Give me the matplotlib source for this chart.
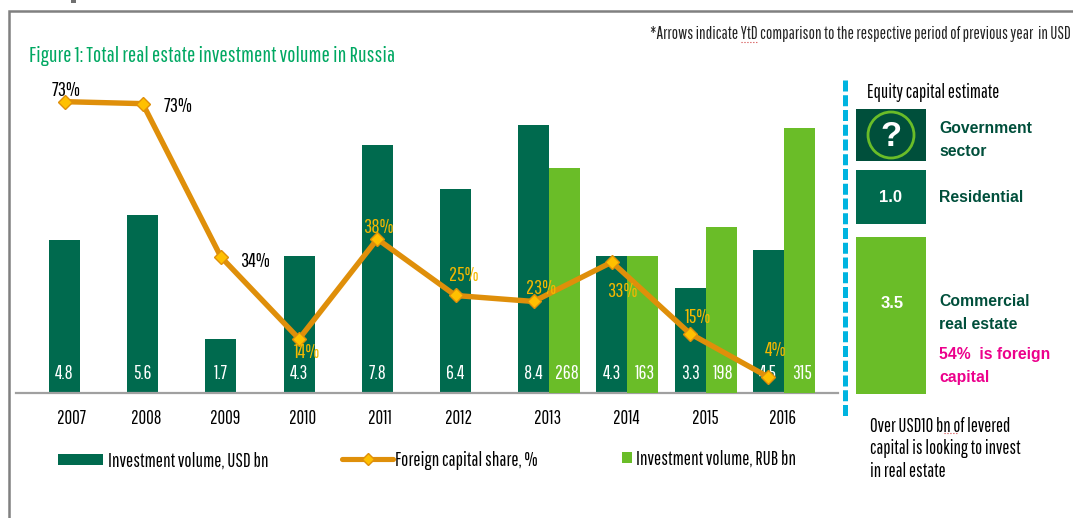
#Total real estate investment volume in Russia

import numpy as np

import matplotlib.pyplot as plt
from matplotlib.patches import Rectangle, Circle

################
##Data
################

years    = ['2007','2008','2009','2010','2011','2012','2013','2014','2015','2016']

usd_bn   = [4.8, 5.6, 1.7, 4.3, 7.8, 6.4, 8.4, 4.3, 3.3, 4.5]

rub_year = [6, 7, 8, 9]
rub_bn   = [268, 163, 198, 315]

share     = [73.2, 72.7, 34.2, 13.6, 38.7, 24.5, 23.0, 32.9, 14.9, 4.0]
share_lab = ['73%','73%','34%','14%','38%','25%','23%','33%','15%','4%']

equity_names  = ['Government\nsector', 'Residential', 'Commercial\nreal estate']
equity_values = ['?', '1.0', '3.5']

################
##Style
################

dark   = '#006A4E'
darker = '#004F3B'
light  = '#6ABD28'
orange = '#DF8F0A'
yellow = '#FFC000'
green  = '#00A862'
pink   = '#EC008C'
cyan   = '#00B4E0'
grey   = '#808080'

W, H = 1073, 518

narrow = ['Pathway Gothic One', 'Archivo Narrow', 'Liberation Sans', 'DejaVu Sans']
wide   = ['Liberation Sans', 'DejaVu Sans']

fig = plt.figure(figsize=(W/100, H/100), dpi=100)

#chart axes, placed in pixels
left, right, top, base = 16, 838, 70, 393
pos = [left/W, 1-base/H, (right-left)/W, (base-top)/H]

step = 78.2
x0   = 64.5
xlim = ((left-x0)/step, (right-x0)/step)

ax = fig.add_axes(pos)
ax.set_xlim(xlim)
ax.set_ylim(0, (base-top)/31.85)

#second axis RUB, third the share
ax2 = fig.add_axes(pos, sharex=ax)
ax2.set_ylim(0, (base-top)/0.84)
ax3 = fig.add_axes(pos, sharex=ax)
ax3.set_ylim(0, (base-top)/3.98)

for a in (ax, ax2, ax3):
    a.patch.set_visible(False)
    a.set_yticks([])
    a.tick_params(bottom=False, labelbottom=False)
    for s in ('top', 'left', 'right'):
        a.spines[s].set_visible(False)
ax2.spines['bottom'].set_visible(False)
ax3.spines['bottom'].set_visible(False)
ax.spines['bottom'].set_color('#A0A0A0')
ax.spines['bottom'].set_linewidth(1.6)

wid = 0.396
xpos = np.arange(len(years))

ax.bar(xpos, usd_bn, wid, color=dark)
ax2.bar(np.array(rub_year)+wid, rub_bn, wid, color=light)

ax3.plot(xpos, share, '-', color=orange, lw=3.9, marker='D', ms=7.5,
         mfc=yellow, mec=orange, mew=1.0, solid_joinstyle='miter')

#values inside the bars
for i, v in zip(xpos, usd_bn):
    ax.text(i, 0.6, '%.1f' % v, color='white', ha='center', va='center',
            family=narrow, fontsize=14)
for i, v in zip(rub_year, rub_bn):
    ax2.text(i+wid+0.03, 23, '%d' % v, color='white', ha='center', va='center',
             family=narrow, fontsize=14)

#share labels, offset in pixels from the point
offs = [(2, 11), (35, -3), (34, -5), (8, -14), (1, 11), (8, 20), (7, 13), (10, -29), (8, 16), (7, 27)]
cols = ['black', 'black', 'black'] + ['#F5B800']*7
for i, v, t, o, c in zip(xpos, share, share_lab, offs, cols):
    ax3.annotate(t, (i, v), xytext=(o[0]*0.72, o[1]*0.72), textcoords='offset points',
                 color=c, ha='center', va='center', family=narrow, fontsize=14.5)

###################################################################
#Everything else goes on a full figure axis in pixel coordinates
ov = fig.add_axes([0, 0, 1, 1], zorder=5)
ov.patch.set_visible(False)
ov.set_xlim(0, W)
ov.set_ylim(H, 0)
ov.axis('off')

#frame
ov.plot([9, 9, W], [H, 11, 11], color=grey, lw=1.8, solid_joinstyle='miter')
ov.add_patch(Rectangle((71, 0), 5, 2.5, color='#707070', lw=0))

ov.text(29, 56, 'Figure 1: Total real estate investment volume in Russia', color=green,
        family=narrow, fontsize=15.8, va='center')
ov.text(650, 34, '*Arrows indicate YtD comparison to the respective period of previous year  in USD',
        color='#222222', family=narrow, fontsize=12.1, va='center')
ov.plot([741, 758], [42, 42], color='#D04040', lw=0.8, ls=':')

#year labels
year_x = [71, 146, 225, 303, 380, 459, 548, 626, 705, 783]
for x, t in zip(year_x, years):
    ov.text(x, 419, t, color='black', ha='center', va='center', family=narrow, fontsize=13.5)

#legend
ov.add_patch(Rectangle((58, 454), 45, 11, color=dark, lw=0))
ov.text(108, 461, 'Investment volume, USD bn', family=narrow, fontsize=13.8, va='center')
ov.plot([342, 393], [459, 459], color=orange, lw=3.7, marker='', solid_capstyle='round')
ov.plot([368], [459], marker='D', ms=6.5, mfc=yellow, mec=orange, mew=1.0)
ov.text(395, 461, 'Foreign capital share, %', family=narrow, fontsize=13.8, va='center')
ov.add_patch(Rectangle((622, 452), 10, 11, color=light, lw=0))
ov.text(636, 459, 'Investment volume, RUB bn', family=narrow, fontsize=13.8, va='center')

#equity panel
ov.plot([845, 845], [80, 416], color=cyan, lw=3.6, ls=(0, (2.2, 0.75)))
ov.text(867, 92, 'Equity capital estimate', family=narrow, fontsize=13.5, va='center',
        fontweight='bold')

boxes = [(109, 52, darker), (170, 54, dark), (237, 157, light)]
for (y, h, c) in boxes:
    ov.add_patch(Rectangle((856, y), 70, h, color=c, lw=0))

ov.add_patch(Circle((891, 135), 23, fill=False, ec=light, lw=2))
ov.text(891, 137, equity_values[0], color='white', family=wide, fontweight='bold',
        fontsize=25, ha='center', va='center')
ov.text(891, 198, equity_values[1], color='white', family=wide, fontweight='bold',
        fontsize=12, ha='center', va='center')
ov.text(892, 304, equity_values[2], color='white', family=wide, fontweight='bold',
        fontsize=12, ha='center', va='center')

ov.text(939, 140, equity_names[0], color=darker, family=wide, fontweight='bold',
        fontsize=11.3, va='center', linespacing=1.65)
ov.text(939, 198, equity_names[1], color=darker, family=wide, fontweight='bold',
        fontsize=11.3, va='center')
ov.text(939, 313, equity_names[2], color=darker, family=wide, fontweight='bold',
        fontsize=11.3, va='center', linespacing=1.65)
ov.text(939, 366, '54%  is foreign\ncapital', color=pink, family=wide, fontweight='bold',
        fontsize=11.3, va='center', linespacing=1.65)

ov.text(870, 449, 'Over USD10 bn of levered\ncapital is looking to invest\nin real estate',
        family=narrow, fontsize=13.5, va='center', linespacing=1.25)
ov.plot([944, 958], [433, 433], color='#D04040', lw=0.8, ls=':')

plt.savefig('out.png', dpi=100)
